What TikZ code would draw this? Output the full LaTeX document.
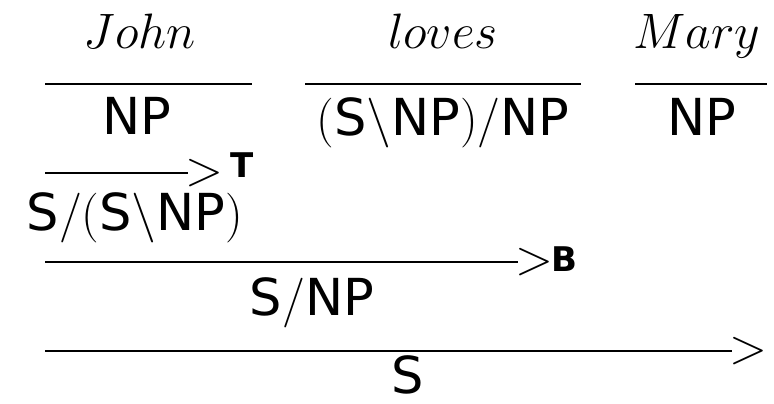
\documentclass[tikz,border=0pt]{standalone}
\usepackage{fontspec}
\setsansfont{DejaVu Sans}
\usetikzlibrary{positioning}

\newcommand{\ccgsize}{\fontsize{25.5}{30}\selectfont}
\newcommand{\ccgcat}[1]{$\mathsf{#1}$}
\tikzset{
  word/.style={font=\ccgsize, inner sep=0pt, anchor=base},
  cat/.style={font=\ccgsize, inner sep=0pt, anchor=base},
  gt/.style={font=\ccgsize, inner sep=0pt},
  comb/.style={font=\fontsize{17}{20}\selectfont\sffamily\bfseries, inner sep=0pt},
  rule/.style={line width=0.8pt}
}

\begin{document}
\begin{tikzpicture}[x=0.5pt,y=-0.5pt]
  \useasboundingbox (0,0) rectangle (774,403);
  % words
  \node[word] (john) at (140,48) {$John$};
  \node[word] (loves) at (443,48) {$loves$};
  \node[word] (mary) at (697,48) {$Mary$};
  % lexical lines
  \coordinate (J1) at (45,84);  \coordinate (J2) at (252,84);
  \coordinate (L1) at (305,84); \coordinate (L2) at (581,84);
  \coordinate (M1) at (635,84); \coordinate (M2) at (767,84);
  % derivation lines
  \coordinate (T1) at (45,173); \coordinate (T2) at (188,173);
  \coordinate (B1) at (45,262); \coordinate (B2) at (518,262);
  \coordinate (F1) at (45,351); \coordinate (F2) at (732,351);
  \foreach \a/\b in {J1/J2,L1/L2,M1/M2,T1/T2,B1/B2,F1/F2}
    \draw[rule] (\a) -- (\b);
  % categories
  \node[cat] (npJohn) at (137,134) {\ccgcat{NP}};
  \node[cat] (tvLoves) at (443,135) {\ccgcat{(S\backslash NP)/NP}};
  \node[cat] (npMary) at (702,135) {\ccgcat{NP}};
  \node[cat] (raised) at (135,230) {\ccgcat{S/(S\backslash NP)}};
  \node[cat] (composed) at (312,315) {\ccgcat{S/NP}};
  \node[cat] (sentence) at (408,393) {\ccgcat{S}};
  % combinators
  \node[gt, right=-1.5pt of T2] (gtT) {$>$};
  \node[comb, above right=-2.5pt and 3pt of gtT.east] (labT) {T};
  \node[gt, right=-1.5pt of B2] (gtB) {$>$};
  \node[comb, above right=-5pt and -1.5pt of gtB.east] (labB) {B};
  \node[gt, right=-1.5pt of F2] (gtF) {$>$};
\end{tikzpicture}
\end{document}
